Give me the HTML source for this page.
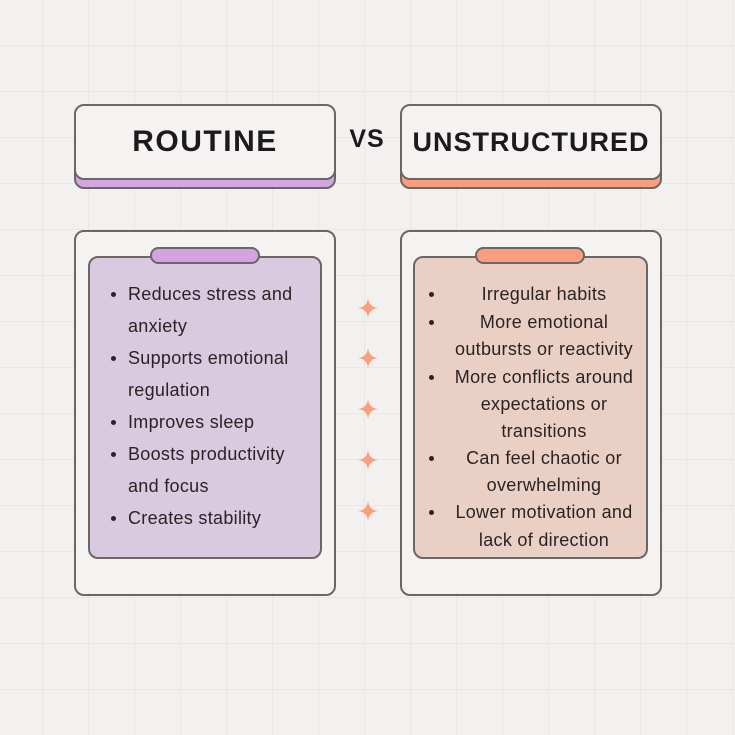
<!DOCTYPE html>
<html><head><style>
body{margin:0;width:735px;height:735px;position:relative;overflow:hidden;font-family:"Liberation Sans",sans-serif;
background-color:#f2f1ef;
background-image:linear-gradient(#e9e7e4 1px,transparent 1px),linear-gradient(90deg,#e9e7e4 1px,transparent 1px);
background-size:46px 46px;background-position:-4px 45px;}
.a{position:absolute;box-sizing:border-box}
.tb{border:2px solid #6b6766;border-radius:10px}
.t{font-weight:bold;font-size:30px;color:#1c1a1a;text-align:center;letter-spacing:1.5px}
.l{position:absolute;font-size:18px;letter-spacing:0.3px;color:#2a2323;white-space:nowrap;line-height:20px}
.d{position:absolute;width:5px;height:5px;border-radius:50%;background:#2a2323}
</style></head><body>
<div class="a tb" style="left:74px;top:112px;width:262px;height:77px;background:#d2a6e0"></div>
<div class="a tb t" style="left:74px;top:104px;width:262px;height:76px;background:#f4f3f1;line-height:72px">ROUTINE</div>
<div class="a tb" style="left:400px;top:112px;width:262px;height:77px;background:#fa9e7e"></div>
<div class="a tb t" style="left:400px;top:104px;width:262px;height:76px;background:#f4f3f1;line-height:72px;font-size:27px;letter-spacing:1px">UNSTRUCTURED</div>
<div class="a t" style="left:340px;top:125px;width:54px;font-size:25px;letter-spacing:1px">VS</div>

<div class="a tb" style="left:74px;top:230px;width:262px;height:366px;background:#f4f3f1"></div>
<div class="a tb" style="left:88px;top:256px;width:234px;height:303px;background:#d9cadf"></div>
<div class="a" style="left:150px;top:247px;width:110px;height:17px;border:2px solid #6b6766;border-radius:9px;background:#d3a2e0"></div>
<div class="a tb" style="left:400px;top:230px;width:262px;height:366px;background:#f4f3f1"></div>
<div class="a tb" style="left:413px;top:256px;width:235px;height:303px;background:#eacfc5"></div>
<div class="a" style="left:475px;top:247px;width:110px;height:17px;border:2px solid #6b6766;border-radius:9px;background:#fa9e7e"></div>

<div class="d" style="left:111px;top:292px"></div><div class="l" style="left:128px;top:284px">Reduces stress and</div>
<div class="l" style="left:128px;top:316px">anxiety</div>
<div class="d" style="left:111px;top:356px"></div><div class="l" style="left:128px;top:348px">Supports emotional</div>
<div class="l" style="left:128px;top:380px">regulation</div>
<div class="d" style="left:111px;top:420px"></div><div class="l" style="left:128px;top:412px">Improves sleep</div>
<div class="d" style="left:111px;top:452px"></div><div class="l" style="left:128px;top:444px">Boosts productivity</div>
<div class="l" style="left:128px;top:476px">and focus</div>
<div class="d" style="left:111px;top:516px"></div><div class="l" style="left:128px;top:508px">Creates stability</div>

<div style="position:absolute;left:444px;top:0;width:200px;text-align:center">
<div class="l" style="left:0;width:200px;top:284px">Irregular habits</div>
<div class="l" style="left:0;width:200px;top:312px">More emotional</div>
<div class="l" style="left:0;width:200px;top:339px">outbursts or reactivity</div>
<div class="l" style="left:0;width:200px;top:367px">More conflicts around</div>
<div class="l" style="left:0;width:200px;top:394px">expectations or</div>
<div class="l" style="left:0;width:200px;top:421px">transitions</div>
<div class="l" style="left:0;width:200px;top:448px">Can feel chaotic or</div>
<div class="l" style="left:0;width:200px;top:475px">overwhelming</div>
<div class="l" style="left:0;width:200px;top:502px">Lower motivation and</div>
<div class="l" style="left:0;width:200px;top:530px">lack of direction</div>
</div>
<div class="d" style="left:429px;top:292px"></div>
<div class="d" style="left:429px;top:320px"></div>
<div class="d" style="left:429px;top:375px"></div>
<div class="d" style="left:429px;top:456px"></div>
<div class="d" style="left:429px;top:510px"></div>

<svg class="a" style="left:0;top:0" width="735" height="735">
<g fill="#f9a083">
<path id="s" d="M368 298 Q369 307 378 308 Q369 309 368 318 Q367 309 358 308 Q367 307 368 298Z"/>
<use href="#s" y="50"/><use href="#s" y="101"/><use href="#s" y="152"/><use href="#s" y="203"/>
</g></svg>
</body></html>
